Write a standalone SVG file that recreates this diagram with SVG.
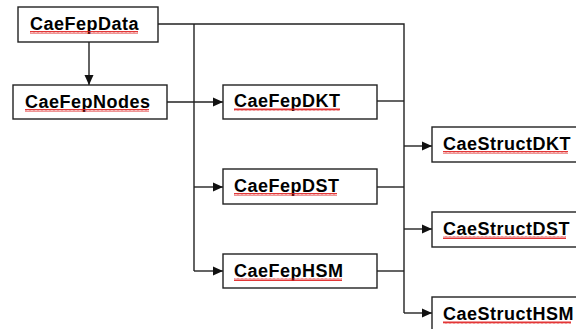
<svg xmlns="http://www.w3.org/2000/svg" width="576" height="329" viewBox="0 0 576 329">
<style>
.box{fill:#fff;stroke:#222;stroke-width:1.4}
.lbl{font-family:"Liberation Sans",Arial,sans-serif;font-weight:bold;font-size:18px;letter-spacing:0.5px;fill:#000}
.ln{fill:none;stroke:#222;stroke-width:1.4}
.sq{fill:url(#squig)}
</style>
<defs>
<marker id="ah" markerWidth="11" markerHeight="11" refX="10" refY="5" orient="auto" markerUnits="userSpaceOnUse">
<path d="M0,0.5 L10,5 L0,9.5 Z" fill="#111"/>
</marker>
<pattern id="squig" width="4" height="3" patternUnits="userSpaceOnUse">
<path d="M0,2.6 L1,0.4 L2,2.6 L3,0.4 L4,2.6" fill="none" stroke="#e02020" stroke-width="0.9"/>
</pattern>
</defs>
<rect width="576" height="329" fill="#fff"/>
<g id="connectors">
<path class="ln" d="M158,24 H404 V313"/>
<path class="ln" d="M194,24 V271"/>
<path class="ln" d="M89,42 V85" marker-end="url(#ah)"/>
<path class="ln" d="M167,102 H223" marker-end="url(#ah)"/>
<path class="ln" d="M194,187 H223" marker-end="url(#ah)"/>
<path class="ln" d="M194,271 H223" marker-end="url(#ah)"/>
<path class="ln" d="M377,101 H404"/>
<path class="ln" d="M377,187 H404"/>
<path class="ln" d="M377,271 H404"/>
<path class="ln" d="M404,146 H432" marker-end="url(#ah)"/>
<path class="ln" d="M404,229 H432" marker-end="url(#ah)"/>
<path class="ln" d="M404,313 H432" marker-end="url(#ah)"/>
</g>
<g id="CaeFepData">
<rect class="box" x="18" y="7" width="140" height="35"/>
<text class="lbl" x="30" y="30">CaeFepData</text>
<rect class="sq" x="30" y="31" width="108" height="3"/>
</g>
<g id="CaeFepNodes">
<rect class="box" x="13" y="85" width="154" height="34"/>
<text class="lbl" x="25" y="108">CaeFepNodes</text>
<rect class="sq" x="25" y="109" width="124" height="3"/>
</g>
<g id="CaeFepDKT">
<rect class="box" x="223" y="85" width="154" height="34"/>
<text class="lbl" x="234" y="107">CaeFepDKT</text>
<rect class="sq" x="234" y="108" width="106" height="3"/>
</g>
<g id="CaeFepDST">
<rect class="box" x="223" y="169" width="154" height="35"/>
<text class="lbl" x="234" y="192">CaeFepDST</text>
<rect class="sq" x="234" y="193" width="103" height="3"/>
</g>
<g id="CaeFepHSM">
<rect class="box" x="223" y="254" width="154" height="34"/>
<text class="lbl" x="234" y="277">CaeFepHSM</text>
<rect class="sq" x="234" y="278" width="108" height="3"/>
</g>
<g id="CaeStructDKT">
<rect class="box" x="432" y="127" width="150" height="35"/>
<text class="lbl" x="443" y="150">CaeStructDKT</text>
<rect class="sq" x="443" y="151" width="125" height="3"/>
</g>
<g id="CaeStructDST">
<rect class="box" x="432" y="212" width="150" height="35"/>
<text class="lbl" x="443" y="235">CaeStructDST</text>
<rect class="sq" x="443" y="236" width="123" height="3"/>
</g>
<g id="CaeStructHSM">
<rect class="box" x="432" y="297" width="150" height="40"/>
<text class="lbl" x="443" y="320">CaeStructHSM</text>
<rect class="sq" x="443" y="321" width="128" height="3"/>
</g>
</svg>
